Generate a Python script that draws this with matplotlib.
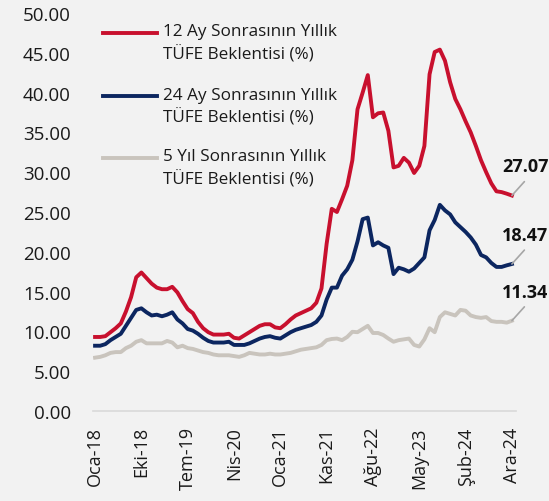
import numpy as np
import matplotlib
matplotlib.use("Agg")
import matplotlib.pyplot as plt
from matplotlib.lines import Line2D

plt.rcParams['font.family'] = ['Open Sans', 'DejaVu Sans']

# tick labels (every 9th observation)
tick_labels = ["Oca-18", "Eki-18", "Tem-19", "Nis-20", "Oca-21",
               "Kas-21", "Ağu-22", "May-23", "Şub-24", "Ara-24"]

# 12 ay sonrasi yillik TUFE beklentisi
exp_12m = [9.3, 9.3, 9.4, 9.9, 10.4, 11.0, 12.5, 14.3, 16.8, 17.4,
           16.7, 16.0, 15.5, 15.3, 15.3, 15.6, 14.9, 13.8, 12.8, 12.3,
           11.2, 10.4, 9.9, 9.6, 9.6, 9.6, 9.7, 9.2, 9.1, 9.5,
           9.9, 10.3, 10.7, 10.9, 10.9, 10.5, 10.4, 10.9, 11.5, 12.0,
           12.3, 12.6, 12.9, 13.6, 15.4, 21.0, 25.4, 25.0, 26.6, 28.3,
           31.5, 37.9, 40.0, 42.2, 36.9, 37.4, 37.5, 35.2, 30.6, 30.8,
           31.8, 31.2, 29.9, 30.8, 33.3, 42.3, 45.1, 45.4, 44.0, 41.3,
           39.2, 37.9, 36.4, 35.0, 33.3, 31.5, 30.0, 28.6, 27.6, 27.5,
           27.3, 27.07]

# 24 ay sonrasi
exp_24m = [8.2, 8.2, 8.4, 8.9, 9.3, 9.7, 10.7, 11.7, 12.7, 12.9,
           12.4, 12.0, 12.1, 11.9, 12.1, 12.4, 11.5, 11.0, 10.3, 10.1,
           9.7, 9.2, 8.8, 8.6, 8.6, 8.6, 8.7, 8.3, 8.3, 8.3,
           8.5, 8.8, 9.1, 9.3, 9.4, 9.2, 9.1, 9.5, 9.9, 10.2,
           10.4, 10.6, 10.8, 11.2, 12.0, 14.0, 15.5, 15.5, 17.0, 17.8,
           19.0, 21.3, 24.1, 24.3, 20.8, 21.2, 20.8, 20.5, 17.2, 18.0,
           17.8, 17.5, 17.9, 18.6, 19.3, 22.7, 24.0, 25.9, 25.2, 24.7,
           23.7, 23.1, 22.5, 21.8, 20.9, 19.6, 19.3, 18.6, 18.1, 18.1,
           18.3, 18.47]

# 5 yil sonrasi
exp_5y = [6.7, 6.8, 7.0, 7.3, 7.4, 7.4, 7.9, 8.2, 8.7, 8.9,
          8.5, 8.5, 8.5, 8.5, 8.8, 8.6, 8.0, 8.2, 7.9, 7.8,
          7.6, 7.4, 7.3, 7.1, 7.0, 7.0, 7.0, 6.9, 6.8, 7.0,
          7.3, 7.2, 7.1, 7.1, 7.2, 7.1, 7.1, 7.2, 7.3, 7.5,
          7.7, 7.8, 7.9, 8.0, 8.3, 8.9, 9.05, 9.1, 8.9, 9.3,
          9.95, 9.9, 10.3, 10.7, 9.8, 9.8, 9.55, 9.1, 8.7, 8.9,
          9.0, 9.1, 8.3, 8.1, 9.0, 10.4, 9.9, 11.8, 12.4, 12.2,
          12.0, 12.7, 12.6, 12.0, 11.8, 11.7, 11.8, 11.3, 11.2, 11.2,
          11.1, 11.34]

series_names = ["12 Ay Sonrasının Yıllık\nTÜFE Beklentisi (%)",
                "24 Ay Sonrasının Yıllık\nTÜFE Beklentisi (%)",
                "5 Yıl Sonrasının Yıllık\nTÜFE Beklentisi (%)"]
colors = ["#C8102E", "#0C2660", "#C9C4BD"]
bg = "#F2F2F2"

W, H = 549, 502
fig = plt.figure(figsize=(W / 100, H / 100), dpi=100, facecolor=bg)
ax = fig.add_axes([93 / W, 1 - 412 / H, (516 - 93) / W, (412 - 14) / H])
ax.set_facecolor(bg)

x = np.arange(len(exp_12m))
all_series = [exp_12m, exp_24m, exp_5y]
for vals, c in zip(all_series, colors):
    ax.plot(x, vals, color=c, lw=2.8, solid_joinstyle="round", zorder=3)

ax.set_xlim(-0.4, len(x) - 0.2)
ax.set_ylim(0, 50)
ax.set_yticks(np.arange(0, 50.1, 5))
ax.set_yticklabels([f"{v:.2f}" for v in np.arange(0, 50.1, 5)], fontsize=13.5, color="#1a1a1a")
ax.set_xticks(np.arange(0, len(x), 9))
ax.set_xticklabels(tick_labels, rotation=90, fontsize=13, color="#1a1a1a")
ax.tick_params(axis="y", length=0, pad=16)
ax.tick_params(axis="x", length=0, pad=11)

for s in ["top", "right", "left"]:
    ax.spines[s].set_visible(False)
ax.spines["bottom"].set_color("#D9D9D9")
ax.spines["bottom"].set_linewidth(1.2)

# end labels with leader lines
for vals in all_series:
    last = vals[-1]
    ax.annotate("", xy=(x[-1], last), xytext=(9, 10),
                textcoords="offset points",
                arrowprops=dict(arrowstyle="-", color="#A6A6A6", lw=1.2,
                                shrinkA=0, shrinkB=0),
                annotation_clip=False)
    ax.annotate(f"{last:.2f}", xy=(x[-1], last), xytext=(9.5, 21),
                textcoords="offset points", fontsize=13, fontweight="bold",
                ha="center", va="center", color="#111111",
                annotation_clip=False)

# legend drawn by hand so the handle sits on the first text line
leg_y = [34, 97, 159]
for name, c, yy in zip(series_names, colors, leg_y):
    fig.add_artist(Line2D([103 / W, 157 / W], [1 - yy / H, 1 - yy / H],
                          color=c, lw=2.8, transform=fig.transFigure))
    fig.text(163 / W, 1 - (yy - 9.5) / H, name, fontsize=12.3, color="#1a1a1a",
             va="top", ha="left", linespacing=1.4)

fig.savefig("out.png", dpi=100, facecolor=bg)
